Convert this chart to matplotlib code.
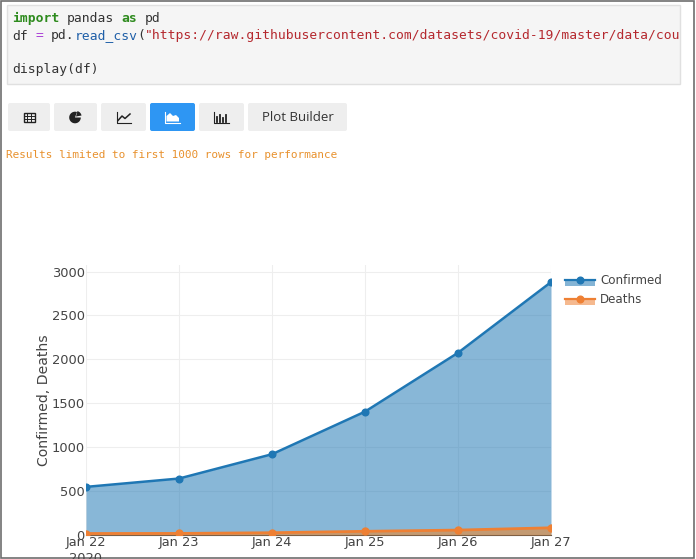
import matplotlib
matplotlib.use('Agg')
import matplotlib.pyplot as plt
from matplotlib.patches import Rectangle, FancyBboxPatch, Wedge, Polygon

W, H = 696, 559

dates = [0, 1, 2, 3, 4, 5]
date_labels = ['Jan 22\n2020', 'Jan 23', 'Jan 24', 'Jan 25', 'Jan 26', 'Jan 27']
confirmed = [548, 643, 920, 1405, 2075, 2880]
deaths = [17, 18, 26, 42, 56, 82]
y_ticks = [0, 500, 1000, 1500, 2000, 2500, 3000]

BLUE = '#1f77b4'
ORANGE = '#ff7f0e'
GREY_TXT = '#444444'

fig = plt.figure(figsize=(W/100, H/100), dpi=100)

# page chrome drawn in pixel coords
bg = fig.add_axes([0, 0, 1, 1])
bg.set_xlim(0, W)
bg.set_ylim(H, 0)
bg.axis('off')

# window border
bg.add_patch(Rectangle((1, 0.5), 693, 557, fc='none', ec='#6e6e6e', lw=1.2))

# code cell
cell = Rectangle((6.5, 4.5), 673, 79, fc='#f5f5f5', ec='#e0e0e0', lw=1)
bg.add_patch(cell)

CW = 7.82
def code(col, row, s, color='#333333', weight='normal'):
    t = bg.text(12 + col*CW, row, s, family='DejaVu Sans Mono', fontsize=9.36, color=color,
                weight=weight, va='center', ha='left', clip_on=True)
    t.set_clip_path(cell)

code(0, 18.5, 'import', '#2e8b1e', 'bold')
code(7, 18.5, 'pandas')
code(14, 18.5, 'as', '#2e8b1e', 'bold')
code(17, 18.5, 'pd')
code(0, 36, 'df')
code(3, 36, '=', '#a93fd6')
code(5, 36, 'pd.')
code(8, 36, 'read_csv', '#1f5fa8')
code(16, 36, '(')
code(17, 36, '"https://raw.githubusercontent.com/datasets/covid-19/master/data/countries-aggregated.csv"', '#b5282e')
code(0, 69.5, 'display(df)')

# toolbar buttons
buttons = [(8, 42), (54, 43), (101, 45), (150, 45), (199, 45), (248, 99)]
for i, (x, w) in enumerate(buttons):
    fc = '#2e96f3' if i == 3 else '#eeeeee'
    bg.add_patch(FancyBboxPatch((x, 103), w, 28, boxstyle='round,pad=0,rounding_size=2', fc=fc, ec='none'))
bg.text(297.5, 117.5, 'Plot Builder', fontsize=9.5, color='#333333', ha='center', va='center',
        family='Open Sans')

# table icon
bg.add_patch(Rectangle((23.5, 112.5), 11, 9.5, fc='none', ec='#222222', lw=1))
for yy in [115.5, 118.8]:
    bg.plot([23.5, 34.5], [yy, yy], color='#222222', lw=0.7)
for xx in [27.2, 30.8]:
    bg.plot([xx, xx], [112.5, 122], color='#222222', lw=0.7)
# pie icon
bg.add_patch(Wedge((75, 117.5), 5.8, 0, 290, fc='#222222', ec='none'))
bg.add_patch(Wedge((76, 116.5), 5.6, 285, 350, fc='#222222', ec='none'))
# line icon
bg.plot([116.5, 116.5, 131], [111.5, 123, 123], color='#222222', lw=0.8)
bg.plot([118, 122, 125, 130], [120.5, 116, 118.5, 114], color='#222222', lw=1.1)
# area icon
bg.plot([165, 165, 180], [112, 123, 123], color='white', lw=0.8)
bg.add_patch(Polygon([(166.5, 121.5), (166.5, 116), (170, 113), (173, 116), (176, 115), (179, 118), (179, 121.5)],
                     fc='white', ec='none'))
# bar icon
bg.plot([214, 214, 229], [112, 123, 123], color='#222222', lw=0.8)
for xx, top in zip([216.5, 219.5, 222.5, 225.5], [117, 115, 118, 114.5]):
    bg.plot([xx, xx], [121.5, top], color='#222222', lw=1.3)

bg.text(6, 155, 'Results limited to first 1000 rows for performance', family='DejaVu Sans Mono',
        fontsize=7.95, color='#e8912d', va='center', ha='left')

# chart, 0 at y=535 and top of the plot area at y=265
ax = fig.add_axes([86/W, 1 - 535/H, (551-86)/W, (535-265)/H])
ax.fill_between(dates, confirmed, 0, color=BLUE, alpha=0.53, lw=0, zorder=2)
ax.fill_between(dates, deaths, 0, color=ORANGE, alpha=0.5, lw=0, zorder=3)
ax.plot(dates, confirmed, color=BLUE, lw=1.8, marker='o', ms=4.8, zorder=4)
ax.plot(dates, deaths, color='#ee8034', lw=2, marker='o', ms=5, zorder=5)

ax.set_xlim(0, 5)
ax.set_ylim(0, 3075)
ax.set_yticks(y_ticks)
ax.set_xticks(dates)
ax.set_xticklabels(date_labels, linespacing=1.3)
ax.grid(True, color='#eeeeee', lw=0.8, zorder=1)
ax.set_axisbelow(True)
ax.tick_params(length=0, labelsize=9.4, labelcolor=GREY_TXT, pad=1)
for s in ['top', 'right', 'left']:
    ax.spines[s].set_visible(False)
ax.spines['bottom'].set_color('#555555')
ax.spines['bottom'].set_linewidth(0.8)
ax.set_ylabel('Confirmed, Deaths', fontsize=10.1, color=GREY_TXT, labelpad=0.5)

# legend
fg = fig.add_axes([0, 0, 1, 1], facecolor='none')
fg.set_xlim(0, W)
fg.set_ylim(H, 0)
fg.axis('off')
for y, c, label in [(280, BLUE, 'Confirmed'), (299, '#ee8034', 'Deaths')]:
    fg.add_patch(Rectangle((565, y-1.5), 30, 7, fc=c, alpha=0.55, ec='none'))
    fg.plot([565, 595], [y, y], color=c, lw=1.6)
    fg.plot([580], [y], marker='o', ms=4.8, color=c)
    fg.text(600, y+0.8, label, fontsize=8.6, color=GREY_TXT, va='center', ha='left')

fig.savefig('out.png', dpi=100)
